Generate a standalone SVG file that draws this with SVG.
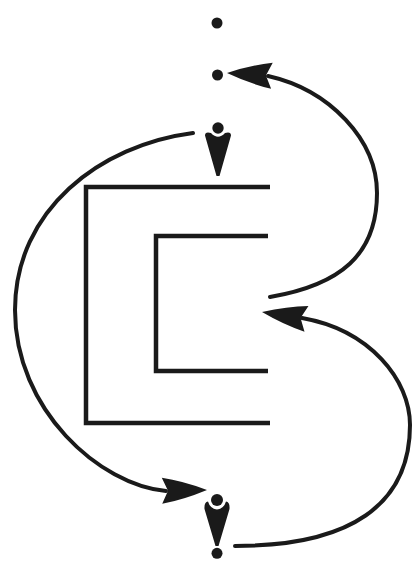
<svg xmlns="http://www.w3.org/2000/svg" xmlns:xlink="http://www.w3.org/1999/xlink" width="414" height="567" viewBox="0 0 414 567">
<style>
.br{fill:none;stroke:#1a1a1a;stroke-width:4.5;stroke-linejoin:miter;stroke-linecap:butt}
.cv{fill:none;stroke:#1a1a1a;stroke-width:4;stroke-linecap:round}
.ink{fill:#1a1a1a}
</style>
<defs>
<path id="ah" class="ink" d="M0,0 Q-24,-9.5 -45,-13 L-39,0 L-45,13 Q-24,9.5 0,0 Z"/>
</defs>
<rect width="414" height="567" fill="#ffffff"/>
<g id="dot-top"><circle cx="217" cy="23" r="5.5" class="ink"/></g>
<g id="dot-upper"><circle cx="217.5" cy="75" r="5.5" class="ink"/></g>
<g id="figure-top" transform="translate(218,128)">
<circle cx="0" cy="0" r="5.7" class="ink"/>
<path class="ink" d="M-13,7.5 Q-13,4.5 -10,4.5 L-7,5 Q0,12.5 7,5 L10,4.5 Q13,4.5 13,7.5 L1.5,48 L-1.5,48 Z"/>
</g>
<g id="figure-bottom" transform="translate(217,500)">
<circle cx="0" cy="0" r="6" class="ink"/>
<path class="ink" d="M-12.5,9 Q-13,2 -9,1.5 Q-7,8.5 0,9.5 Q7,8.5 9,1.5 Q13,2 12.5,9 L1.5,46 L-1.5,46 Z"/>
<circle cx="0" cy="53.3" r="5.5" class="ink"/>
</g>
<g id="bracket-outer"><path class="br" d="M270,187 H86 V423 H270"/></g>
<g id="bracket-inner"><path class="br" d="M268,236 H156 V371 H268"/></g>
<g id="connectors">
<path class="cv" d="M270,297 C340,285 377,255 377,193 C377,140 330,90 268,76"/>
<use xlink:href="#ah" href="#ah" transform="translate(227,73) rotate(183.6)"/>
<path class="cv" d="M235,546 C350,546 410,505 410,425 C410,380 370,330 302,318"/>
<use xlink:href="#ah" href="#ah" transform="translate(262,312) rotate(188.7)"/>
<path class="cv" d="M193,133 C100,145 15,210 15,310 C15,410 100,485 166,491"/>
<use xlink:href="#ah" href="#ah" transform="translate(207,490) rotate(-1)"/>
</g>
</svg>
